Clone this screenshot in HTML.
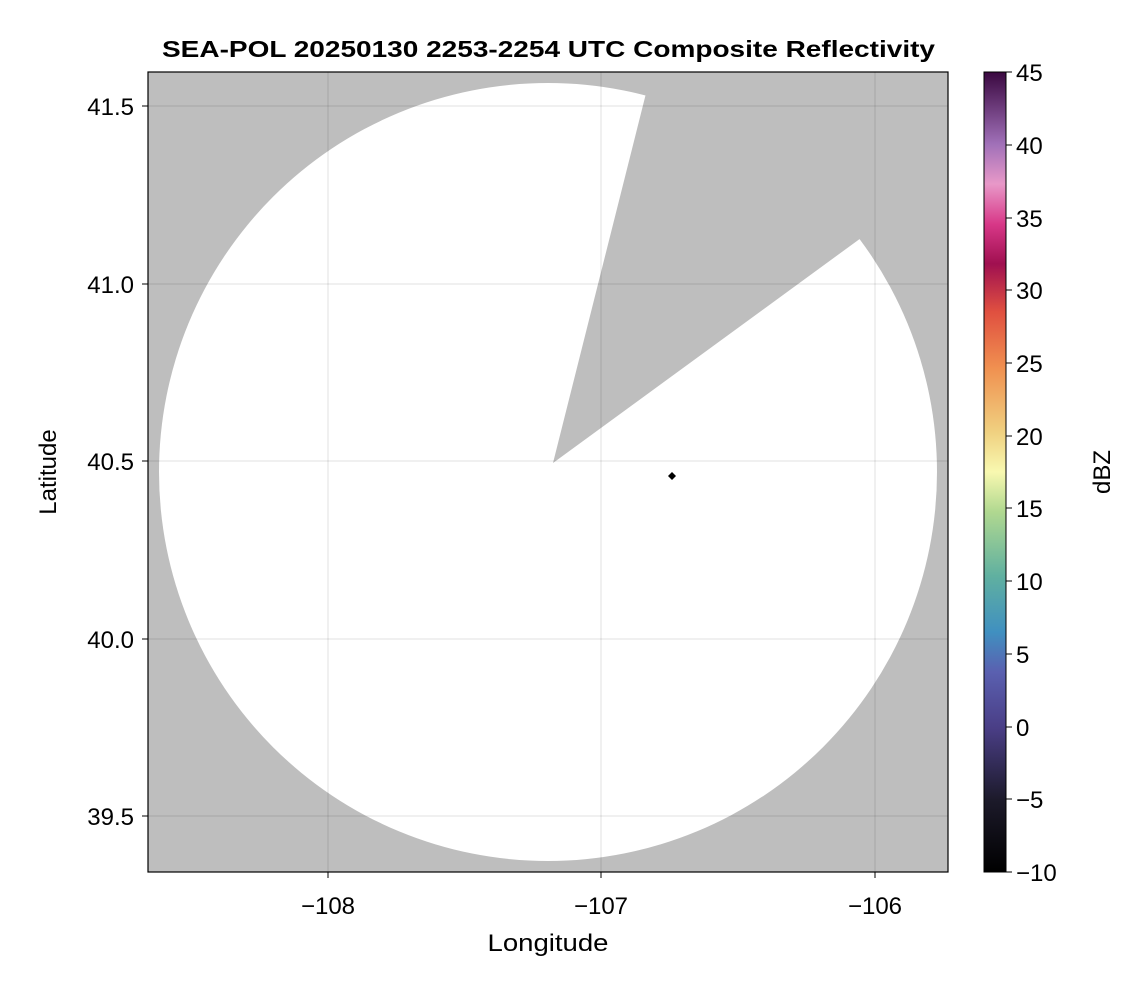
<!DOCTYPE html>
<html><head><meta charset="utf-8"><style>
body{margin:0;background:#fff;}
svg text{font-family:"Liberation Sans",Arial,sans-serif;fill:#000;}
</style></head><body>
<svg width="1146" height="990" viewBox="0 0 1146 990" xmlns="http://www.w3.org/2000/svg">
<defs>
<clipPath id="pc"><rect x="148" y="72" width="800" height="800"/></clipPath>
<linearGradient id="cb" x1="0" y1="1" x2="0" y2="0">
<stop offset="0" stop-color="#000000"/>
<stop offset="0.09" stop-color="#1c1a2a"/>
<stop offset="0.18" stop-color="#4a3e86"/>
<stop offset="0.25" stop-color="#5a60b0"/>
<stop offset="0.30" stop-color="#4090c0"/>
<stop offset="0.37" stop-color="#60b0a0"/>
<stop offset="0.45" stop-color="#b0d890"/>
<stop offset="0.50" stop-color="#f8f8b0"/>
<stop offset="0.55" stop-color="#f0d080"/>
<stop offset="0.63" stop-color="#f09050"/>
<stop offset="0.70" stop-color="#e05040"/>
<stop offset="0.76" stop-color="#a01050"/>
<stop offset="0.81" stop-color="#d83888"/>
<stop offset="0.86" stop-color="#e898c8"/>
<stop offset="0.91" stop-color="#a070b8"/>
<stop offset="1" stop-color="#3a0840"/>
</linearGradient>
</defs>
<text x="162" y="57" font-size="23" font-weight="bold" textLength="773" lengthAdjust="spacingAndGlyphs">SEA-POL 20250130 2253-2254 UTC Composite Reflectivity</text>
<g clip-path="url(#pc)">
<rect x="148" y="72" width="800" height="800" fill="#bebebe"/>
<circle cx="548" cy="472" r="389" fill="#fff"/>
<polygon points="553,463 672,-10 1000,-10 1000,140 950,173" fill="#bebebe"/>
<g stroke="#000" stroke-opacity="0.12" stroke-width="1">
<line x1="328" y1="72" x2="328" y2="872"/><line x1="601" y1="72" x2="601" y2="872"/><line x1="875" y1="72" x2="875" y2="872"/>
<line x1="148" y1="106" x2="948" y2="106"/><line x1="148" y1="284" x2="948" y2="284"/><line x1="148" y1="461" x2="948" y2="461"/><line x1="148" y1="639" x2="948" y2="639"/><line x1="148" y1="816" x2="948" y2="816"/>
</g>
<polygon points="672,472 676,476 672,480 668,476" fill="#000"/>
</g>
<rect x="148" y="72" width="800" height="800" fill="none" stroke="#000" stroke-width="1.2"/>
<g stroke="#000" stroke-width="1">
<line x1="328" y1="872" x2="328" y2="878"/><line x1="601" y1="872" x2="601" y2="878"/><line x1="875" y1="872" x2="875" y2="878"/>
<line x1="142" y1="106" x2="148" y2="106"/><line x1="142" y1="284" x2="148" y2="284"/><line x1="142" y1="461" x2="148" y2="461"/><line x1="142" y1="639" x2="148" y2="639"/><line x1="142" y1="816" x2="148" y2="816"/>
</g>
<g font-size="24" text-anchor="middle">
<text x="328" y="914">−108</text><text x="601" y="914">−107</text><text x="875" y="914">−106</text>
<text x="548" y="951" textLength="121" lengthAdjust="spacingAndGlyphs">Longitude</text>
</g>
<g font-size="24" text-anchor="end">
<text x="134" y="115">41.5</text><text x="134" y="293">41.0</text><text x="134" y="470">40.5</text><text x="134" y="648">40.0</text><text x="134" y="825">39.5</text>
</g>
<text x="56" y="472" font-size="24" text-anchor="middle" transform="rotate(-90 56 472)">Latitude</text>
<rect x="984" y="72" width="22" height="800" fill="url(#cb)" stroke="#000" stroke-width="1"/>
<g stroke="#000" stroke-width="1">
<line x1="1006" y1="72" x2="1012" y2="72"/><line x1="1006" y1="145" x2="1012" y2="145"/><line x1="1006" y1="218" x2="1012" y2="218"/><line x1="1006" y1="290" x2="1012" y2="290"/><line x1="1006" y1="363" x2="1012" y2="363"/><line x1="1006" y1="436" x2="1012" y2="436"/><line x1="1006" y1="508" x2="1012" y2="508"/><line x1="1006" y1="581" x2="1012" y2="581"/><line x1="1006" y1="654" x2="1012" y2="654"/><line x1="1006" y1="727" x2="1012" y2="727"/><line x1="1006" y1="799" x2="1012" y2="799"/><line x1="1006" y1="872" x2="1012" y2="872"/>
</g>
<g font-size="24">
<text x="1016" y="81">45</text><text x="1016" y="154">40</text><text x="1016" y="227">35</text><text x="1016" y="299">30</text><text x="1016" y="372">25</text><text x="1016" y="445">20</text><text x="1016" y="517">15</text><text x="1016" y="590">10</text><text x="1016" y="663">5</text><text x="1016" y="736">0</text><text x="1016" y="808">−5</text><text x="1016" y="881">−10</text>
</g>
<text x="1110" y="472" font-size="24" text-anchor="middle" transform="rotate(-90 1110 472)">dBZ</text>
</svg>
</body></html>
